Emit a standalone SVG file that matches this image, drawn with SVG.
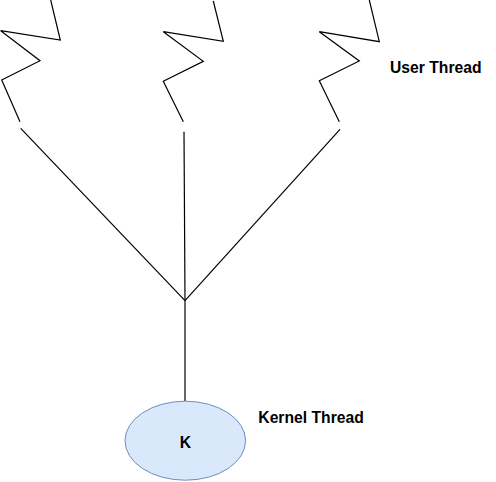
<svg xmlns="http://www.w3.org/2000/svg" width="496" height="482" viewBox="0 0 496 482">
<style>
.z{fill:none;stroke:#000;stroke-width:1.2;stroke-linejoin:miter}
.c{fill:none;stroke:#000;stroke-width:1.2}
.t{font-family:"Liberation Sans",Arial,sans-serif;font-size:15.7px;font-weight:bold;fill:#000}
</style>
<rect width="496" height="482" fill="#fff"/>
<g id="user-thread-1"><polyline class="z" points="50.7,0 60.3,40 0.7,30.7 40,60.7 1.7,80 20,121.7"/></g>
<g id="user-thread-2"><polyline class="z" points="213.3,1 223.3,41.3 163.3,31.7 203.3,61.3 163.3,81.3 183.3,121.7"/></g>
<g id="user-thread-3"><polyline class="z" points="369.3,0 379.3,41.7 319.3,31.7 359.3,61 319.3,80.7 339.3,121.7"/></g>
<g id="connectors">
<line class="c" x1="20.7" y1="128.3" x2="185" y2="300.7"/>
<line class="c" x1="184" y1="131.7" x2="185" y2="300.7"/>
<line class="c" x1="340" y1="129.3" x2="185" y2="300.7"/>
<line class="c" x1="185" y1="300.7" x2="185" y2="401"/>
</g>
<g id="kernel-thread">
<ellipse cx="185.3" cy="440.7" rx="60.3" ry="39.5" fill="#dae8fc" stroke="#6c8ebf" stroke-width="1"/>
<text class="t" x="185.5" y="448.3" text-anchor="middle">K</text>
</g>
<g id="labels">
<text class="t" x="390" y="73.3">User Thread</text>
<text class="t" x="258.3" y="423.3">Kernel Thread</text>
</g>
</svg>
